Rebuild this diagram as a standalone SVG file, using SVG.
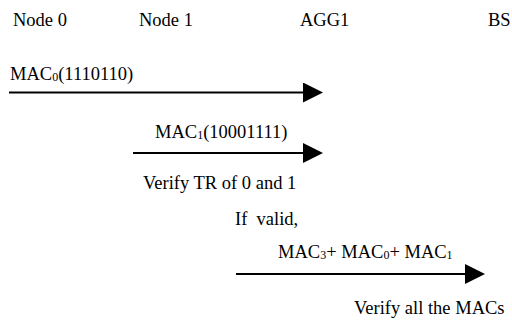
<svg xmlns="http://www.w3.org/2000/svg" width="512" height="322" viewBox="0 0 512 322">
<style>
text{font-family:"Liberation Serif","Times New Roman",serif;font-size:18.5px;fill:#000}
.sub{font-size:12px}
.ln{stroke:#000;stroke-width:2.2;fill:none}
</style>
<defs>
<marker id="ah" markerUnits="userSpaceOnUse" markerWidth="22" markerHeight="22" refX="0" refY="10" orient="auto">
<path d="M0,0 L20,10 L0,20 Z" fill="#000"/>
</marker>
</defs>
<rect width="512" height="322" fill="#fff"/>
<g id="node0"><text x="13" y="26">Node 0</text></g>
<g id="node1"><text x="139" y="26">Node 1</text></g>
<g id="agg1"><text x="300" y="26">AGG1</text></g>
<g id="bs"><text x="488" y="26">BS</text></g>
<g id="connectors">
<line class="ln" x1="9" y1="92.5" x2="303" y2="92.5" marker-end="url(#ah)"/>
<line class="ln" x1="133" y1="153" x2="303" y2="153" marker-end="url(#ah)"/>
<line class="ln" x1="236" y1="274" x2="465" y2="274" marker-end="url(#ah)"/>
</g>
<g id="labels">
<text x="10" y="80">MAC<tspan class="sub" dy="1">0</tspan><tspan dy="-1">(1110110)</tspan></text>
<text x="155" y="138">MAC<tspan class="sub" dy="1">1</tspan><tspan dy="-1">(10001111)</tspan></text>
<text x="143" y="189">Verify TR of 0 and 1</text>
<text x="235" y="225" xml:space="preserve">If  valid,</text>
<text x="278" y="258">MAC<tspan class="sub" dy="1">3</tspan><tspan dy="-1">+ MAC</tspan><tspan class="sub" dy="1">0</tspan><tspan dy="-1">+ MAC</tspan><tspan class="sub" dy="1">1</tspan></text>
<text x="354" y="314">Verify all the MACs</text>
</g>
</svg>
